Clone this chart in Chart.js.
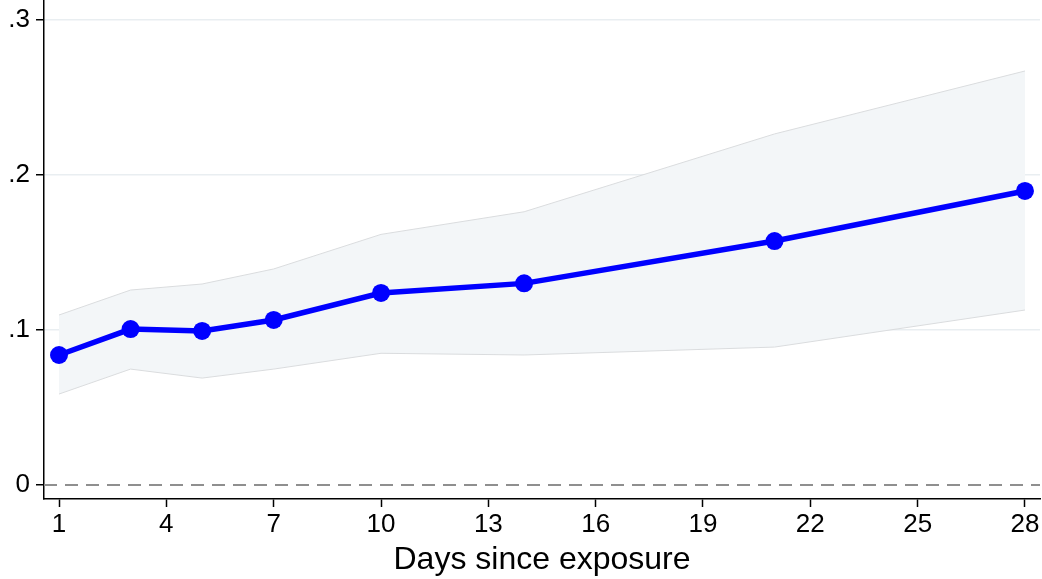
<!DOCTYPE html>
<html lang="en">
<head>
  <meta charset="UTF-8">
  <title>Days since exposure</title>
  <script src="https://cdn.jsdelivr.net/npm/chart.js"></script>
  <style>
    html, body { margin: 0; padding: 0; background: #fff; }
    .chart-box { width: 1042px; height: 579px; }
  </style>
</head>
<body>
  <div class="chart-box">
    <canvas id="effectChart"></canvas>
  </div>

  <script>
    // Data
    const days = [1, 3, 5, 7, 10, 14, 21, 28];
    const estimate = [0.0839, 0.1006, 0.0994, 0.1065, 0.1239, 0.1301, 0.1574, 0.1897];
    const upperCI = [0.1097, 0.1258, 0.1297, 0.1394, 0.1617, 0.1763, 0.2265, 0.2671];
    const lowerCI = [0.0587, 0.0748, 0.0690, 0.0748, 0.0850, 0.0839, 0.0890, 0.1129];
    const xTicks = [1, 4, 7, 10, 13, 16, 19, 22, 25, 28];
    const yTicks = [0, 0.1, 0.2, 0.3];
    const yTickLabels = ['0', '.1', '.2', '.3'];
    const xRange = [0.58, 28.42];
    const yRange = [-0.009, 0.3129];

    const pts = (ys) => days.map((d, i) => ({ x: d, y: ys[i] }));
    const font = 'Liberation Sans, Arial, sans-serif';

    function renderChart() {
      const ctx = document.getElementById('effectChart').getContext('2d');

      new Chart(ctx, {
        type: 'line',
        data: {
          datasets: [
            {
              // upper bound, filled down to the lower bound
              data: pts(upperCI),
              borderColor: '#dadcde',
              borderWidth: 1,
              backgroundColor: '#f3f6f8',
              pointRadius: 0,
              fill: '+1',
              order: 3,
            },
            {
              data: pts(lowerCI),
              borderColor: '#dadcde',
              borderWidth: 1,
              pointRadius: 0,
              fill: false,
              order: 2,
            },
            {
              // zero reference line
              data: xRange.map(x => ({ x: x, y: 0 })),
              borderColor: '#8f8f8f',
              borderWidth: 2,
              borderDash: [13, 8],
              pointRadius: 0,
              fill: false,
              order: 1,
            },
            {
              data: pts(estimate),
              borderColor: '#0000ff',
              backgroundColor: '#0000ff',
              borderWidth: 5.5,
              pointRadius: 9,
              pointBorderWidth: 0,
              fill: false,
              order: 0,
            },
          ],
        },
        options: {
          responsive: true,
          maintainAspectRatio: false,
          animation: false,
          layout: { autoPadding: false, padding: { top: 0, right: 2, left: 0, bottom: 0 } },
          plugins: {
            legend: { display: false },
            tooltip: { enabled: false },
          },
          scales: {
            x: {
              type: 'linear',
              min: xRange[0],
              max: xRange[1],
              afterBuildTicks: (scale) => { scale.ticks = xTicks.map(v => ({ value: v })); },
              afterFit: (scale) => {
                scale.height = 80;
                scale.paddingLeft = 0;
                scale.paddingRight = 0;
              },
              grid: {
                drawOnChartArea: false,
                tickLength: 8,
                tickWidth: 1.5,
                tickColor: '#000',
              },
              border: { color: '#000', width: 1.5 },
              ticks: {
                color: '#000',
                padding: 2,
                maxRotation: 0,
                font: { family: font, size: 26 },
              },
              title: {
                display: true,
                text: 'Days since exposure',
                color: '#000',
                font: { family: font, size: 32 },
                padding: { top: 0, bottom: 0 },
              },
            },
            y: {
              min: yRange[0],
              max: yRange[1],
              afterBuildTicks: (scale) => { scale.ticks = yTicks.map(v => ({ value: v })); },
              afterFit: (scale) => {
                scale.width = 44;
                scale.paddingTop = 0;
                scale.paddingBottom = 0;
              },
              grid: {
                color: (c) => (c.tick && c.tick.value === 0 ? 'rgba(0,0,0,0)' : '#e9eef1'),
                lineWidth: 1.5,
                tickLength: 8,
                tickWidth: 1.5,
                tickColor: '#000',
              },
              border: { color: '#000', width: 1.5 },
              ticks: {
                color: '#000',
                padding: 6,
                font: { family: font, size: 26 },
                callback: (value, index) => yTickLabels[index],
              },
            },
          },
        },
      });
    }

    window.onload = renderChart;
  </script>
</body>
</html>
